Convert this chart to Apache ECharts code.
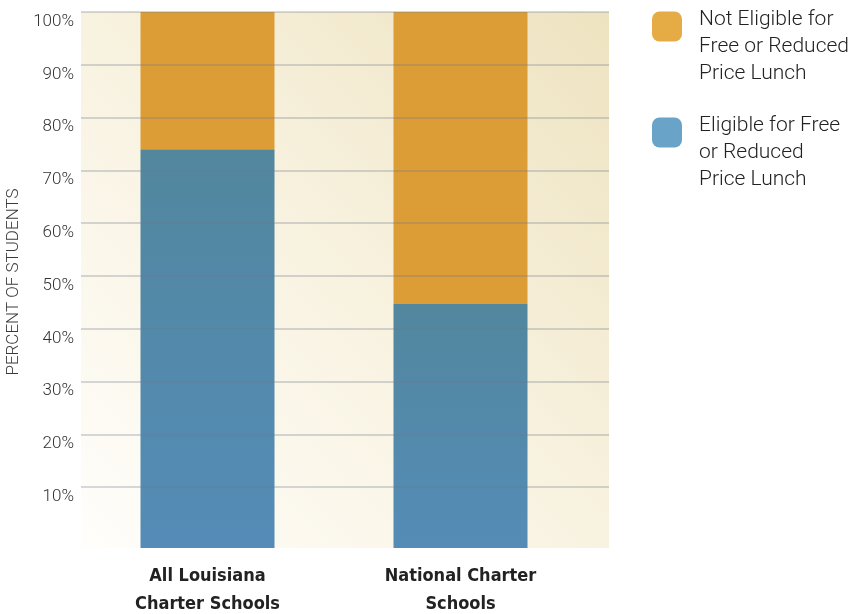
<!DOCTYPE html>
<html>
<head>
<meta charset="utf-8">
<script src="https://cdn.jsdelivr.net/npm/echarts@6/dist/echarts.min.js"></script>
<style>
html,body{margin:0;padding:0;background:#fff;}
#chart{width:855px;height:614px;}
</style>
</head>
<body>
<div id="chart"></div>
<script>
const categories = ['All Louisiana\nCharter Schools', 'National Charter\nSchools'];
const eligible = [74.4, 45.5];
const notEligible = [25.6, 54.5];
const seriesNames = ['Not Eligible for\nFree or Reduced\nPrice Lunch', 'Eligible for Free\nor Reduced\nPrice Lunch'];
const yAxisTitle = 'PERCENT OF STUDENTS';

const legendText = {
  fontFamily: 'Roboto, "Liberation Sans", sans-serif',
  fontWeight: 300, fontSize: 21, lineHeight: 27, color: '#222',
  rich: {
    s: { lineHeight: 40, fontSize: 10 },
    g: { width: 12 },
    t: { fontFamily: 'Roboto, "Liberation Sans", sans-serif', fontWeight: 300, fontSize: 21, lineHeight: 27, color: '#222' }
  }
};
const legendFormatter = name => '{s| }\n' + name.split('\n').map(l => '{g| }{t|' + l + '}').join('\n');

function makeLegend(idx, top, color) {
  return {
    orient: 'vertical', left: 647, top: top, padding: 5,
    itemWidth: 30, itemHeight: 30, icon: 'roundRect',
    data: [{ name: seriesNames[idx], itemStyle: { color: color } }],
    formatter: legendFormatter,
    textStyle: legendText
  };
}

const chart = echarts.init(document.getElementById('chart'));
const option = {
  backgroundColor: '#ffffff',
  animation: false,
  graphic: [{
    type: 'rect', z: -10,
    shape: { x: 81, y: 12, width: 528, height: 536 },
    style: {
      fill: new echarts.graphic.LinearGradient(1, 0, 0, 1, [
        { offset: 0, color: '#EEE3C0' },
        { offset: 0.5, color: '#F8F2E0' },
        { offset: 1, color: '#FFFEFB' }
      ])
    },
    silent: true
  }],
  legend: [
    makeLegend(0, -39, '#E5AB45'),
    makeLegend(1, 67, '#6AA3C8')
  ],
  grid: [
    { left: 81, top: 12, width: 528, height: 528, outerBoundsMode: 'none', containLabel: false },
    { left: 81, top: 12, width: 506, height: 536, outerBoundsMode: 'none', containLabel: false }
  ],
  xAxis: [
    { type: 'value', gridIndex: 0, show: false, min: 0, max: 1 },
    {
      type: 'category', gridIndex: 1, data: categories,
      axisLine: { show: false }, axisTick: { show: false },
      axisLabel: {
        margin: 14,
        fontFamily: '"Liberation Sans Narrow", "DejaVu Sans Condensed", sans-serif',
        fontWeight: 'bold', fontSize: 18, lineHeight: 28, color: '#222'
      }
    }
  ],
  yAxis: [
    {
      type: 'value', gridIndex: 0, min: 0, max: 100, interval: 10, z: 5,
      name: yAxisTitle, nameLocation: 'middle', nameRotate: 90, nameGap: 48,
      nameTextStyle: {
        fontFamily: 'Roboto, "Liberation Sans", sans-serif', fontWeight: 300,
        fontSize: 17, color: '#3a3a3a', padding: [0, 12, 0, 0]
      },
      axisLine: { show: false }, axisTick: { show: false },
      axisLabel: {
        margin: 7, verticalAlign: 'top', lineHeight: 19,
        formatter: v => v === 0 ? '' : v + '%',
        fontFamily: 'Roboto, "Liberation Sans", sans-serif',
        fontWeight: 300, fontSize: 17, color: '#333'
      },
      splitLine: {
        show: true, showMinLine: false,
        lineStyle: { color: 'rgba(110,120,140,0.38)', width: 1.5 }
      }
    },
    { type: 'value', gridIndex: 1, min: 0, max: 100, show: false }
  ],
  series: [
    {
      name: seriesNames[1], type: 'bar', stack: 'total',
      xAxisIndex: 1, yAxisIndex: 1, barWidth: 134,
      data: eligible,
      itemStyle: {
        color: new echarts.graphic.LinearGradient(0, 0, 0, 1, [
          { offset: 0, color: '#52879E' },
          { offset: 1, color: '#548CB7' }
        ])
      }
    },
    {
      name: seriesNames[0], type: 'bar', stack: 'total',
      xAxisIndex: 1, yAxisIndex: 1, barWidth: 134,
      data: notEligible,
      itemStyle: { color: '#DC9D36' }
    }
  ]
};
chart.setOption(option);
</script>
</body>
</html>
